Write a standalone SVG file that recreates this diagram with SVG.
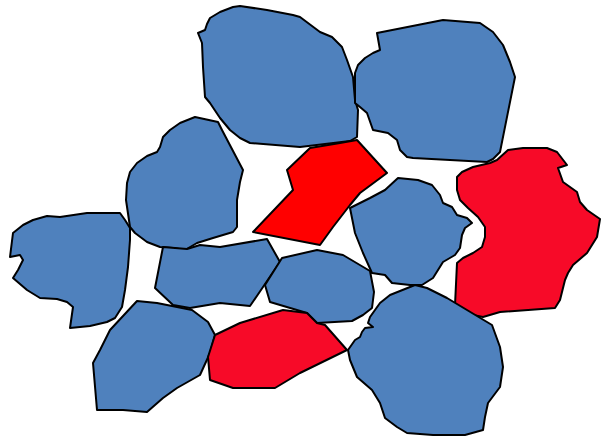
<svg xmlns="http://www.w3.org/2000/svg" width="602" height="439" viewBox="0 0 602 439">
<style>
.b{fill:#4F81BD;stroke:#000;stroke-width:2;stroke-linejoin:round}
.r{fill:#F70A28;stroke:#000;stroke-width:2;stroke-linejoin:round}
.p{fill:#FF0000;stroke:#000;stroke-width:2;stroke-linejoin:round}
</style>
<rect width="602" height="439" fill="#fff"/>
<g id="topCenter"><polygon class="b" points="198,33 205,30 207,24 210,18 220,12 233,7 240,6 267,10 293,15 300,17 320,32 332,37 342,47 347,60 353,77 355,100 358,110 357,137 350,141 300,147 250,143 240,138 230,130 220,118 210,103 205,97 203,67 202,43"/></g>
<g id="topRight"><polygon class="b" points="377,33 380,50 373,53 365,58 358,65 355,73 355,103 360,107 367,113 373,130 388,133 397,140 400,150 407,157 413,158 487,162 493,159 500,152 515,77 510,62 503,45 493,32 480,23 443,20"/></g>
<g id="leftMid"><polygon class="b" points="195,117 218,122 222,130 243,170 240,182 237,200 237,227 233,232 213,238 197,243 185,250 173,248 160,247 147,242 135,233 130,227 126,200 127,183 130,172 137,163 147,156 157,152 160,147 163,137 170,130 180,123"/></g>
<g id="farLeft"><polygon class="b" points="10,257 13,233 23,225 33,220 47,216 60,217 87,213 120,213 125,220 130,228 130,240 128,267 125,290 122,307 115,318 107,322 90,326 70,328 73,307 67,302 57,299 40,298 27,290 13,278 18,270 23,260 20,255"/></g>
<g id="bottomLeft"><polygon class="b" points="137,301 157,303 192,310 208,322 215,335 210,353 200,375 177,388 163,398 147,412 123,410 97,410 93,363 100,350 110,330"/></g>
<g id="midHex"><polygon class="b" points="163,247 187,249 200,245 220,247 267,239 280,262 263,287 250,306 220,303 190,308 173,305 155,288"/></g>
<g id="midSmall"><polygon class="b" points="282,258 317,250 343,255 370,271 374,292 372,308 363,315 352,321 317,323 307,313 270,302 265,285"/></g>
<g id="redBottom"><polygon class="r" points="215,335 240,323 283,310 307,313 317,323 325,325 347,350 300,373 275,388 233,388 210,380 208,357"/></g>
<g id="redCenter"><polygon class="p" points="253,232 293,190 287,170 310,148 340,143 357,140 387,173 360,193 350,205 333,227 320,245"/></g>
<g id="midRight"><polygon class="b" points="350,208 370,198 385,190 398,178 418,180 432,185 440,195 443,203 452,207 457,215 467,218 472,223 465,228 462,235 460,248 455,255 443,262 433,278 422,285 410,285 392,283 385,275 372,273 363,253 355,233"/></g>
<g id="redRight"><polygon class="r" points="455,305 457,263 463,258 473,253 482,247 485,237 485,227 478,217 468,208 460,200 457,190 457,177 462,172 473,167 490,163 497,160 508,150 523,148 547,148 557,152 567,165 558,168 563,182 577,192 580,202 587,210 600,219 597,237 587,253 573,265 568,273 565,280 560,300 555,308 500,312 483,317 473,315"/></g>
<g id="bottomRight"><polygon class="b" points="348,350 355,340 360,337 362,332 365,328 373,327 368,323 370,317 380,303 390,295 415,285 427,288 447,298 467,310 492,325 500,347 503,367 500,387 488,403 485,417 483,430 465,435 433,435 407,433 397,427 385,418 380,403 372,390 357,377 350,360"/></g>
<g id="connectors"/>
</svg>
